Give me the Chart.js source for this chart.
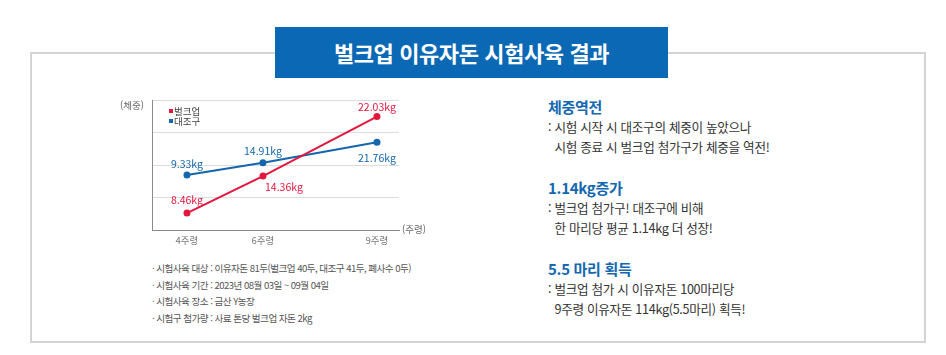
<!DOCTYPE html>
<html lang="ko">
<head>
<meta charset="utf-8">
<script src="https://cdn.jsdelivr.net/npm/chart.js@4.4.1/dist/chart.umd.min.js"></script>
<style>
  html,body{margin:0;padding:0;background:#fff;}
  body{width:946px;height:355px;position:relative;overflow:hidden;font-family:"Noto Sans CJK KR","Noto Sans",sans-serif;}
  #frame{position:absolute;left:30px;top:52px;width:892px;height:287px;border:2px solid #d4d4d4;}
  #title{position:absolute;left:275px;top:27px;width:393px;height:51px;background:#0b68b4;color:#fff;
    font-weight:700;font-size:22px;line-height:50px;text-align:center;letter-spacing:-0.4px;}
  #chartBox{position:absolute;left:100px;top:90px;width:340px;height:170px;}
  #notes{position:absolute;left:152px;top:260px;font-size:9.6px;color:#555;line-height:16.5px;letter-spacing:-0.55px;}
  #side{position:absolute;left:548px;top:97px;color:#333;}
  #side h3{margin:0;font-size:15px;font-weight:700;color:#1468b0;line-height:20px;letter-spacing:-0.3px;}
  #side p{margin:0 0 21px 0;font-size:12.6px;line-height:20px;letter-spacing:-0.3px;}
</style>
</head>
<body>
<div id="frame"></div>
<div id="title">벌크업 이유자돈 시험사육 결과</div>
<div id="chartBox"><canvas id="c" width="340" height="170"></canvas></div>
<div id="notes">
  <div>· 시험사육 대상 : 이유자돈 81두(벌크업 40두, 대조구 41두, 폐사수 0두)</div>
  <div>· 시험사육 기간 : 2023년 08월 03일 ~ 09월 04일</div>
  <div>· 시험사육 장소 : 금산 Y농장</div>
  <div>· 시험구 첨가량 : 사료 톤당 벌크업 자돈 2kg</div>
</div>
<div id="side">
  <h3>체중역전</h3>
  <p>: 시험 시작 시 대조구의 체중이 높았으나<br>&nbsp;&nbsp;시험 종료 시 벌크업 첨가구가 체중을 역전!</p>
  <h3>1.14kg증가</h3>
  <p>: 벌크업 첨가구! 대조구에 비해<br>&nbsp;&nbsp;한 마리당 평균 1.14kg 더 성장!</p>
  <h3>5.5 마리 획득</h3>
  <p>: 벌크업 첨가 시 이유자돈 100마리당<br>&nbsp;&nbsp;9주령 이유자돈 114kg(5.5마리) 획득!</p>
</div>
<script>
// ---- data ----
const weeks = [4, 6, 9];                       // 주령
const seriesNames = ['벌크업', '대조구'];
const bulkupKg = [8.46, 14.36, 22.03];          // labelled weights
const controlKg = [9.33, 14.91, 21.76];
// the drawing is schematic (not to scale); heights in grid units
const bulkupPlot = [0.52, 1.66, 3.49];
const controlPlot = [1.69, 2.07, 2.70];
const xAxisTitle = '(주령)';
const yAxisTitle = '(체중)';

// ---- styles ----
const RED = '#e3173e', BLUE = '#1466ae';
const labelOffsets = [
  [[0,-13],[21,11],[0,-10]],
  [[0,-11],[0,-12],[0,16]]
];

const labelPlugin = {
  id: 'labels',
  afterDatasetsDraw(chart) {
    const ctx = chart.ctx;
    ctx.save();
    ctx.font = '10.5px "Noto Sans CJK KR", "Noto Sans", sans-serif';
    ctx.textAlign = 'center';
    ctx.textBaseline = 'middle';
    chart.data.datasets.forEach((ds, i) => {
      const meta = chart.getDatasetMeta(i);
      meta.data.forEach((pt, j) => {
        const off = labelOffsets[i][j];
        ctx.fillStyle = ds.borderColor;
        ctx.fillText(ds.kg[j].toFixed(2) + 'kg', pt.x + off[0], pt.y + off[1]);
      });
    });
    // axis titles
    const a = chart.chartArea;
    ctx.fillStyle = '#666';
    ctx.font = '9.5px "Noto Sans CJK KR", "Noto Sans", sans-serif';
    ctx.fillText(yAxisTitle, a.left - 20, a.top + 5);
    ctx.fillText(xAxisTitle, a.right + 15, a.bottom - 1);
    // legend
    ctx.textAlign = 'left';
    chart.data.datasets.forEach((ds, i) => {
      const y = a.top + 11 + i * 10;
      ctx.fillStyle = ds.borderColor;
      ctx.fillRect(a.left + 17, y - 2, 4, 4);
      ctx.fillStyle = '#444';
      ctx.fillText(ds.label, a.left + 22, y);
    });
    ctx.restore();
  }
};

new Chart(document.getElementById('c'), {
  type: 'line',
  data: {
    datasets: [
      { label: seriesNames[0], kg: bulkupKg, data: weeks.map((w, i) => ({x: w, y: bulkupPlot[i]})),
        borderColor: RED, backgroundColor: RED, borderWidth: 2, pointRadius: 3.5, pointBackgroundColor: RED, pointBorderWidth: 0 },
      { label: seriesNames[1], kg: controlKg, data: weeks.map((w, i) => ({x: w, y: controlPlot[i]})),
        borderColor: BLUE, backgroundColor: BLUE, borderWidth: 2, pointRadius: 3.5, pointBackgroundColor: BLUE, pointBorderWidth: 0 }
    ]
  },
  options: {
    responsive: false,
    animation: false,
    maintainAspectRatio: false,
    layout: { padding: { left: 52, right: 41, top: 10, bottom: 10 } },
    plugins: { legend: { display: false }, tooltip: { enabled: false } },
    scales: {
      x: {
        type: 'linear', min: 3.08, max: 9.58,
        afterBuildTicks: s => { s.ticks = weeks.map(v => ({value: v})); },
        afterFit: s => { s.height = 20; },
        grid: { display: false, drawTicks: false },
        border: { display: true, color: '#8a8a8a', width: 1 },
        ticks: { padding: 5, color: '#777', font: { size: 9.5, family: '"Noto Sans CJK KR"' }, callback: v => v + '주령' }
      },
      y: {
        min: 0, max: 4,
        afterFit: s => { s.width = 0; },
        ticks: { display: false, stepSize: 1 },
        grid: { color: '#dcdcdc', drawTicks: false },
        border: { display: true, color: '#8a8a8a', width: 1 }
      }
    }
  },
  plugins: [labelPlugin]
});
</script>
</body>
</html>
